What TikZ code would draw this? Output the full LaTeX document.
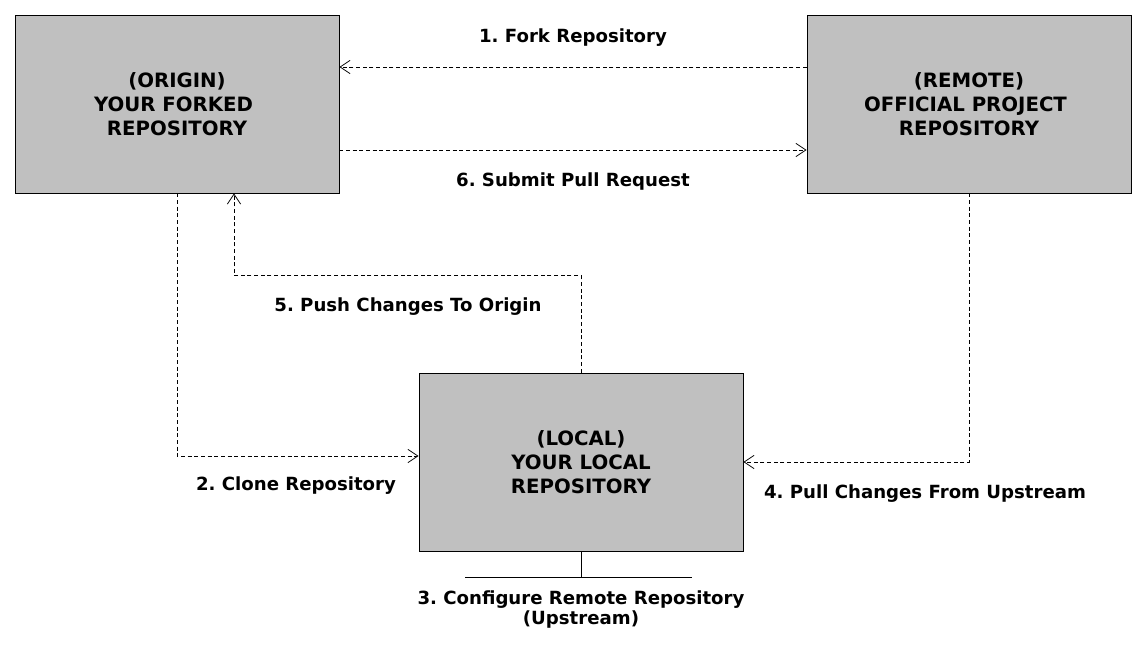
\documentclass[tikz,border=0pt]{standalone}
\usepackage{fontspec}
\setmainfont{DejaVu Sans}
\usetikzlibrary{arrows.meta}
\newcommand{\trailsp}{\hspace{0.35em}\null}
\begin{document}
\frenchspacing
\begin{tikzpicture}[x=0.75pt,y=-0.75pt,
  repo/.style={draw=black, line width=0.6pt, fill={rgb,255:red,192;green,192;blue,192}, minimum width=324*0.75pt, minimum height=178*0.75pt, inner sep=0pt, align=center, font=\fontsize{14.8}{18}\selectfont\bfseries},
  flow/.style={draw=black, line width=0.6pt, dash pattern=on 3pt off 2pt, -{Straight Barb[length=7.5pt,width=10pt]}},
  lbl/.style={font=\fontsize{13.6}{15}\selectfont\bfseries, inner sep=0pt, align=center}]
\useasboundingbox (0,0) rectangle (1146,646);
\node[repo] (origin) at (177,104) {(ORIGIN)\\YOUR FORKED\trailsp\\REPOSITORY};
\node[repo] (remote) at (969,104) {(REMOTE)\\OFFICIAL PROJECT\trailsp\\REPOSITORY};
\node[repo] (local) at (581,462) {(LOCAL)\\YOUR LOCAL\\REPOSITORY};
\coordinate (bl) at (465,577);
\coordinate (br) at (692,577);
\draw[flow] (remote.west |- 0,67) -- (origin.east |- 0,67);
\draw[flow] (origin.east |- 0,150) -- (remote.west |- 0,150);
\draw[flow] (local.north) -- ++(0,-97) -| (origin.south -| 234,0);
\draw[flow] (origin.south) |- (local.west |- 0,456);
\draw[flow] (remote.south) |- (local.east);
\draw[line width=0.6pt] (local.south) -- (local.south |- bl);
\draw[line width=0.6pt] (bl) -- (br);
\node[lbl] (l1) at (573,38) {1. Fork Repository};
\node[lbl] (l6) at (573,181) {6. Submit Pull Request};
\node[lbl] (l5) at (408,307) {5. Push Changes To Origin};
\node[lbl] (l2) at (296,486) {2. Clone Repository};
\node[lbl] (l4) at (925,494) {4. Pull Changes From Upstream};
\node[lbl] (l3) at (581,609) {3. Configure Remote Repository\\(Upstream)};
\end{tikzpicture}
\end{document}
